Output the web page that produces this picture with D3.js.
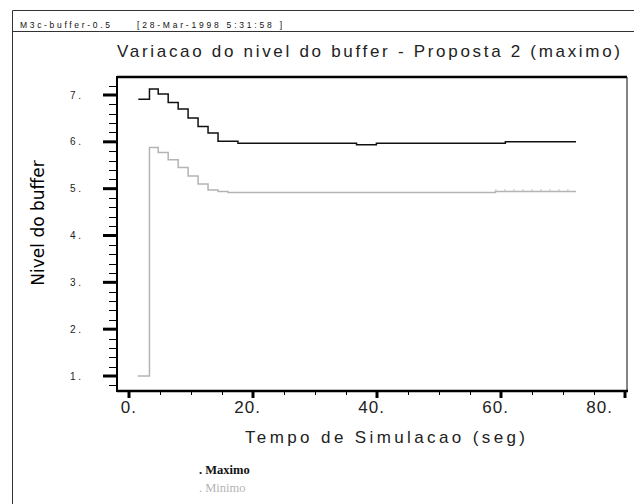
<!DOCTYPE html>
<html>
<head>
<meta charset="utf-8">
<script src="https://cdn.jsdelivr.net/npm/d3@7"></script>
<style>
  body { margin: 0; background: #fff; }
  text { font-family: 'Liberation Sans', Arial, sans-serif; }
  text.serif { font-family: 'Liberation Serif', 'Times New Roman', serif; }
  text.ylabel { font-family: 'DejaVu Sans', Verdana, sans-serif; }
</style>
</head>
<body>
<div id="chart"></div>
<script>
// step series (time in s, buffer level)
const maxTimes = [1.5, 3.3, 4.71, 6.32, 7.93, 9.53, 11.14, 12.75, 14.36, 17.57, 36.7, 39.9, 60.7, 72.1]
const maxValues = [6.91, 7.13, 7.02, 6.84, 6.70, 6.51, 6.33, 6.19, 6.01, 5.97, 5.94, 5.97, 6.00, 6.00]
const minTimes = [1.4, 3.3, 4.71, 6.32, 7.93, 9.53, 11.14, 12.75, 14.36, 15.97, 59.1, 72.1]
const minValues = [1.0, 5.88, 5.77, 5.62, 5.45, 5.27, 5.10, 4.97, 4.94, 4.92, 4.94, 4.94]

const xTicks = [0, 20, 40, 60, 80]
const xTickLabels = ['0.', '20.', '40.', '60.', '80.']
const yTicks = [1, 2, 3, 4, 5, 6, 7]
const yTickLabels = ['1 .', '2 .', '3 .', '4 .', '5 .', '6 .', '7 .']
const legendLabels = ['. Maximo', '. Minimo']
const seriesColors = ['#111', '#b4b4b4']

const width = 634
const height = 504
const plot = { left: 117, right: 627, top: 77, bottom: 391 }

const x = d3.scaleLinear().domain([0, 80]).range([129, 625])
const y = d3.scaleLinear().domain([1, 7]).range([376, 95])

const svg = d3.select('#chart').append('svg')
  .attr('width', width)
  .attr('height', height)

// outer frame + header strip
svg.append('path')
  .attr('d', `M12.5,${height} V10.5 H${width}`)
  .attr('fill', 'none').attr('stroke', '#333').attr('stroke-width', 1)
svg.append('line')
  .attr('x1', 12).attr('x2', width).attr('y1', 31.5).attr('y2', 31.5)
  .attr('stroke', '#333').attr('stroke-width', 1)
svg.append('text')
  .attr('x', 20).attr('y', 28)
  .attr('font-size', 8.5).attr('textLength', 90).attr('lengthAdjust', 'spacing')
  .attr('fill', '#111')
  .text('M3c-buffer-0.5')
svg.append('text')
  .attr('x', 137).attr('y', 28)
  .attr('font-size', 8.5).attr('textLength', 145).attr('lengthAdjust', 'spacing')
  .attr('fill', '#111')
  .text('[28-Mar-1998 5:31:58 ]')

// title
svg.append('text')
  .attr('x', 117).attr('y', 57)
  .attr('font-size', 17).attr('textLength', 503).attr('lengthAdjust', 'spacing')
  .attr('fill', '#222')
  .text('Variacao do nivel do buffer - Proposta 2 (maximo)')

// plot box
svg.append('line')
  .attr('x1', plot.left).attr('x2', plot.right).attr('y1', plot.top).attr('y2', plot.top)
  .attr('stroke', '#000').attr('stroke-width', 2.5)
svg.append('line')
  .attr('x1', plot.right).attr('x2', plot.right).attr('y1', plot.top).attr('y2', plot.bottom)
  .attr('stroke', '#333').attr('stroke-width', 1.2)
svg.append('line')
  .attr('x1', plot.left).attr('x2', plot.left).attr('y1', plot.top - 1).attr('y2', plot.bottom + 1)
  .attr('stroke', '#000').attr('stroke-width', 2)
svg.append('line')
  .attr('x1', plot.left).attr('x2', plot.right + 1).attr('y1', plot.bottom).attr('y2', plot.bottom)
  .attr('stroke', '#000').attr('stroke-width', 2.5)

// y ticks (minor every 0.2, major every 1)
const yMinor = d3.range(0.8, 7.5, 0.2).filter(v => y(v) >= plot.top && y(v) <= plot.bottom)
svg.append('g').selectAll('line')
  .data(yMinor)
  .join('line')
  .attr('x1', 109).attr('x2', plot.left)
  .attr('y1', d => Math.round(y(d)) + 0.5).attr('y2', d => Math.round(y(d)) + 0.5)
  .attr('stroke', '#000').attr('stroke-width', 1)
svg.append('g').selectAll('line')
  .data(yTicks)
  .join('line')
  .attr('x1', 103).attr('x2', plot.left)
  .attr('y1', d => y(d)).attr('y2', d => y(d))
  .attr('stroke', '#000').attr('stroke-width', 3)
svg.append('g').selectAll('text')
  .data(yTicks)
  .join('text')
  .attr('x', 70).attr('y', d => y(d) + 3.5)
  .attr('font-size', 10).attr('fill', '#222')
  .text((d, i) => yTickLabels[i])

// x ticks (minor every 5, major every 20)
svg.append('g').selectAll('line')
  .data(d3.range(5, 80, 5).filter(d => d % 20 !== 0))
  .join('line')
  .attr('x1', d => Math.round(x(d)) + 0.5).attr('x2', d => Math.round(x(d)) + 0.5)
  .attr('y1', plot.bottom).attr('y2', plot.bottom + 4)
  .attr('stroke', '#000').attr('stroke-width', 1)
svg.append('g').selectAll('line')
  .data(xTicks)
  .join('line')
  .attr('x1', d => x(d)).attr('x2', d => x(d))
  .attr('y1', plot.bottom).attr('y2', plot.bottom + 7)
  .attr('stroke', '#000').attr('stroke-width', 3)
// last label is pulled back inside the box, like the original plotter did
svg.append('g').selectAll('text')
  .data(xTicks)
  .join('text')
  .attr('x', d => Math.min(x(d) + 8, plot.right - 14)).attr('y', 413)
  .attr('text-anchor', 'end')
  .attr('font-size', 17).attr('letter-spacing', 1).attr('fill', '#222')
  .text((d, i) => xTickLabels[i])

// axis titles
svg.append('text')
  .attr('x', 245).attr('y', 443)
  .attr('font-size', 17).attr('textLength', 280).attr('lengthAdjust', 'spacing')
  .attr('fill', '#222')
  .text('Tempo de Simulacao (seg)')
svg.append('text')
  .attr('class', 'ylabel')
  .attr('transform', 'translate(44,223) rotate(-90)')
  .attr('text-anchor', 'middle')
  .attr('font-size', 17).attr('fill', '#000')
  .text('Nivel do buffer')

// series
const line = d3.line()
  .x(d => x(d[0]))
  .y(d => y(d[1]))
  .curve(d3.curveStepAfter)

const series = [
  d3.zip(minTimes, minValues),
  d3.zip(maxTimes, maxValues)
]
svg.append('g').selectAll('path')
  .data(series)
  .join('path')
  .attr('d', line)
  .attr('fill', 'none')
  .attr('stroke', (d, i) => seriesColors[1 - i])
  .attr('stroke-width', 1.5)

// little dotted marks on the last part of Minimo
const lastMin = series[0].slice(-2)
svg.append('line')
  .attr('x1', x(lastMin[0][0])).attr('x2', x(lastMin[1][0]))
  .attr('y1', y(lastMin[0][1]) - 1.5).attr('y2', y(lastMin[0][1]) - 1.5)
  .attr('stroke', seriesColors[1]).attr('stroke-width', 1.5)
  .attr('stroke-dasharray', '1,8')

// legend
svg.append('g').selectAll('text')
  .data(legendLabels)
  .join('text')
  .attr('class', 'serif')
  .attr('x', 199).attr('y', (d, i) => 474 + i * 18)
  .attr('font-size', 12.5)
  .attr('font-weight', (d, i) => i === 0 ? 'bold' : 'normal')
  .attr('fill', (d, i) => seriesColors[i])
  .text(d => d)
</script>
</body>
</html>
